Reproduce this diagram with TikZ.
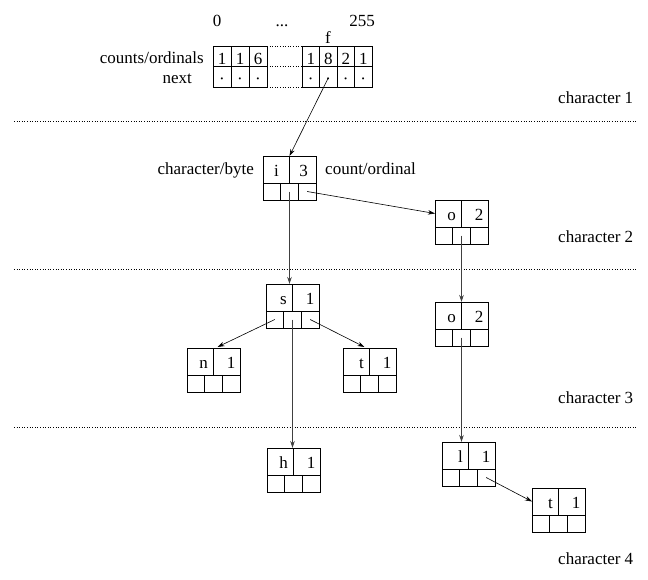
\documentclass[tikz,border=0pt]{standalone}
\usepackage{fontspec}
\newfontfamily\timesfont{Liberation Serif}
\usetikzlibrary{arrows.meta,calc}
\begin{document}
\begin{tikzpicture}[x=1pt,y=-1pt,
  every node/.style={font=\timesfont\fontsize{17}{20}\selectfont, inner sep=0pt},
  frame/.style={line width=0.7pt},
  divider/.style={line width=1.4pt},
  sep/.style={dotted, line width=0.6pt},
  link/.style={-{Stealth[length=7pt,width=4.5pt]}, line width=0.6pt},
  down/.style={link, draw=black!75},
  trie char/.style={anchor=base east, xshift=21pt},
  trie count/.style={anchor=base east, xshift=48.5pt},
  % one trie node: character and count on top, three pointer cells below
  pics/trie/.style 2 args={code={
    \draw[frame] (0,0) rectangle (53,44);
    \draw[frame] (0,27) -- (53,27);
    \draw[frame] (17.67,27) -- (17.67,44) (35.33,27) -- (35.33,44);
    \draw[divider] (26.5,0) -- (26.5,27);
    \node[trie char] (-ch) at (0,20) {#1};
    \node[trie count] (-ct) at (0,20) {#2};
    \coordinate (-top) at (26.5,0);
    \coordinate (-w) at (0,13.5);
    \coordinate (-c1) at (8.83,35.5);
    \coordinate (-c2) at (26.5,35.5);
    \coordinate (-c3) at (44.17,35.5);
  }}
]
\useasboundingbox (0,0) rectangle (648,579);

% ---- root array of 256 entries ----
\node[anchor=base] (n0) at (217,26) {0};
\node[anchor=base] (ndots) at (282,26) {...};
\node[anchor=base] (n255) at (362,26) {255};
\node[anchor=base] (nf) at (328,43) {f};
\node[anchor=base east] (lcounts) at (204,63) {counts/ordinals};
\node[anchor=base east] (lnext) at (192,83) {next};

\draw[frame] (213,46) rectangle (267,87) (213,66) -- (267,66)
  (231,46) -- (231,87) (249,46) -- (249,87);
\draw[frame] (302,46) rectangle (372,87) (302,66) -- (372,66)
  (319.5,46) -- (319.5,87) (337,46) -- (337,87) (354.5,46) -- (354.5,87);
\draw[sep] (267,46) -- (302,46) (267,66) -- (302,66) (267,87) -- (302,87);

\foreach \x/\v [count=\k] in {222/1,240/1,258/6,310.75/1,328.25/8,345.75/2,363.25/1}{
  \node[anchor=base] (cnt\k) at (\x,64) {\v};
  \node[anchor=base] (nx\k) at (\x,84) {·};
}
\coordinate (rootf) at (328.25,78);

% ---- level separators ----
\draw[sep] (14,121) -- (636,121);
\draw[sep] (14,269) -- (636,269);
\draw[sep] (14,427) -- (636,427);

\node[anchor=base west] (char1) at (558,103) {character 1};
\node[anchor=base west] (char2) at (558,242) {character 2};
\node[anchor=base west] (char3) at (558,403) {character 3};
\node[anchor=base west] (char4) at (558,564) {character 4};

% ---- trie nodes ----
\pic[trie char/.style={anchor=base, xshift=13.5pt},
     trie count/.style={anchor=base, xshift=40.5pt}] (i) at (263,156) {trie={i}{3}};
\node[anchor=base east] (lbyte) at (254,174) {character/byte};
\node[anchor=base west] (lcount) at (325,174) {count/ordinal};

\pic (o) at (435,200) {trie={o}{2}};
\pic (s) at (266,284) {trie={s}{1}};
\pic (oo) at (435,302) {trie={o}{2}};
\pic (n) at (187,348) {trie={n}{1}};
\pic (t) at (343,348) {trie={t}{1}};
\pic (h) at (267,448) {trie={h}{1}};
\pic (l) at (442,442) {trie={l}{1}};
\pic (tt) at (532,488) {trie={t}{1}};

% ---- links ----
\draw[link] (rootf) -- (i-top);
\draw[link] (i-c3) -- (o-w);
\draw[down] (i-c2) -- (i-c2 |- s-top);
\draw[down] (o-c2) -- (oo-top);
\draw[link] (s-c1) -- ($(n-top)+(4,-1)$);
\draw[link] (s-c3) -- ($(t-top)+(-5,-1)$);
\draw[down] (s-c2) -- (s-c2 |- h-top);
\draw[down] (oo-c2) -- (oo-c2 |- l-top);
\draw[link] (l-c3) -- (tt-w);
\end{tikzpicture}
\end{document}
